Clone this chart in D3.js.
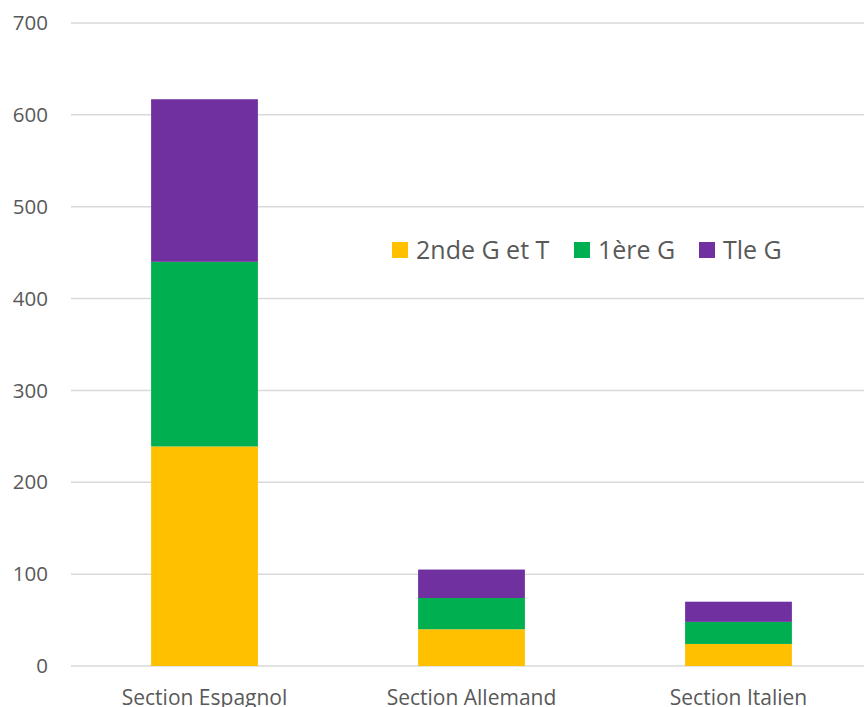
<!DOCTYPE html>
<html>
<head>
<meta charset="utf-8">
<script src="https://cdn.jsdelivr.net/npm/d3@7"></script>
<style>
body { margin: 0; background: #fff; }
text { font-family: "Open Sans", "Liberation Sans", sans-serif; fill: #595959; }
</style>
</head>
<body>
<svg id="chart" width="864" height="707"></svg>
<script>
var categories = ["Section Espagnol", "Section Allemand", "Section Italien"];
var seriesNames = ["2nde G et T", "1ère G", "Tle G"];
var seriesColors = ["#FFC000", "#00B050", "#7030A0"];
var secondeValues = [239, 40, 24];
var premiereValues = [201, 34, 24];
var terminaleValues = [177, 31, 22];
var yTicks = [0, 100, 200, 300, 400, 500, 600, 700];

var svg = d3.select("#chart");

var x = d3.scaleBand().domain(categories).range([71, 872]).paddingInner(0.6).paddingOuter(0.3);
var y = d3.scaleLinear().domain([0, 700]).range([666, 23]);

// gridlines
svg.append("g").selectAll("line").data(yTicks).enter().append("line")
    .attr("x1", 71).attr("x2", 864)
    .attr("y1", function(d) { return y(d); }).attr("y2", function(d) { return y(d); })
    .attr("stroke", "#d9d9d9").attr("stroke-width", 1.5);

// y labels
svg.append("g").selectAll("text").data(yTicks).enter().append("text")
    .attr("x", 48).attr("y", function(d) { return y(d); })
    .attr("dy", "0.35em").attr("text-anchor", "end")
    .style("font-size", "20.5px")
    .text(function(d) { return d; });

// stacked data
var rows = categories.map(function(c, i) {
    return { cat: c, s0: secondeValues[i], s1: premiereValues[i], s2: terminaleValues[i] };
});
var stack = d3.stack().keys(["s0", "s1", "s2"]);
var layers = stack(rows);

svg.append("g").selectAll("g").data(layers).enter().append("g")
    .attr("fill", function(d, i) { return seriesColors[i]; })
    .selectAll("rect").data(function(d) { return d; }).enter().append("rect")
    .attr("x", function(d) { return x(d.data.cat); })
    .attr("width", x.bandwidth())
    .attr("y", function(d) { return y(d[1]); })
    .attr("height", function(d) { return y(d[0]) - y(d[1]); });

// category labels (cut at bottom edge, like the reference)
svg.append("g").selectAll("text").data(categories).enter().append("text")
    .attr("x", function(d) { return x(d) + x.bandwidth() / 2; })
    .attr("y", 705).attr("text-anchor", "middle")
    .style("font-size", "21px")
    .text(function(d) { return d; });

// legend
var legendX = [392, 574, 699];
var legend = svg.append("g").selectAll("g").data(seriesNames).enter().append("g")
    .attr("transform", function(d, i) { return "translate(" + legendX[i] + ",242)"; });
legend.append("rect").attr("width", 16).attr("height", 16)
    .attr("fill", function(d, i) { return seriesColors[i]; });
legend.append("text").attr("x", 24).attr("y", 8).attr("dy", "0.36em")
    .style("font-size", "25px")
    .text(function(d) { return d; });
</script>
</body>
</html>
